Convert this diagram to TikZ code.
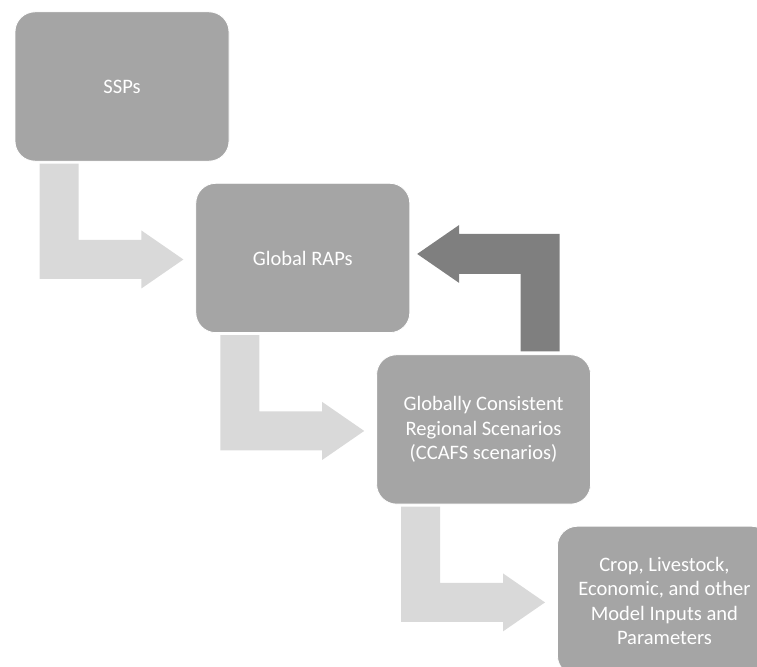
\documentclass[tikz,border=0pt]{standalone}
\usepackage{fontspec}
\setmainfont{Carlito}
\usepackage{xcolor}
\usepackage{tikz}
\usetikzlibrary{positioning, calc}

\definecolor{boxgray}{HTML}{A5A5A5}
\definecolor{lightgray}{HTML}{D9D9D9}
\definecolor{darkgray}{HTML}{7F7F7F}

\begin{document}
\begin{tikzpicture}[
    x=0.75pt, y=-0.75pt,
    box/.style={rectangle, rounded corners=15pt, fill=boxgray, draw=white, line width=0.6pt, minimum width=160.5pt, minimum height=112pt, inner sep=0pt, align=center, text=white, font=\fontsize{15.4}{18.4}\selectfont},
    lightarrow/.style={fill=lightgray},
    darkarrow/.style={fill=darkgray}
]
\useasboundingbox (0,0) rectangle (757,667);
\clip (0,0) rectangle (757,667);

\node[box] (ssp) at (122,86.5) {SSPs};
\node[box, below right=16pt and -25.5pt of ssp] (grap) {Global RAPs};
\node[box, below right=16pt and -25.5pt of grap] (regional) {Globally Consistent\\Regional Scenarios\\(CCAFS scenarios)};
\node[box, below right=16pt and -25.5pt of regional] (inputs) {Crop, Livestock,\\Economic, and other\\Model Inputs and\\Parameters};

% bent arrows down the staircase
\foreach \a/\b in {ssp/grap, grap/regional, regional/inputs} {
    \coordinate (s) at ($(\a.south west)+(25,2)$);
    \coordinate (t) at ($(\b.west)+(-12,1.5)$);
    \fill[lightarrow] (s) -- ++(39,0) |- ($(t)+(-42,-19.5)$) -- ++(0,-9.5) -- (t)
        -- ++(-42,29) -- ++(0,-9.5) -| (s) -- cycle;
}

% feedback arrow
\coordinate (d) at ($(regional.north)+(37,-3)$);
\coordinate (e) at ($(grap.east)+(7,-4)$);
\fill[darkarrow] (d) -- ++(39,0) |- ($(e)+(42,-20)$) -- ++(0,-9) -- (e)
    -- ++(42,29) -- ++(0,-9) -| (d) -- cycle;

\end{tikzpicture}
\end{document}
